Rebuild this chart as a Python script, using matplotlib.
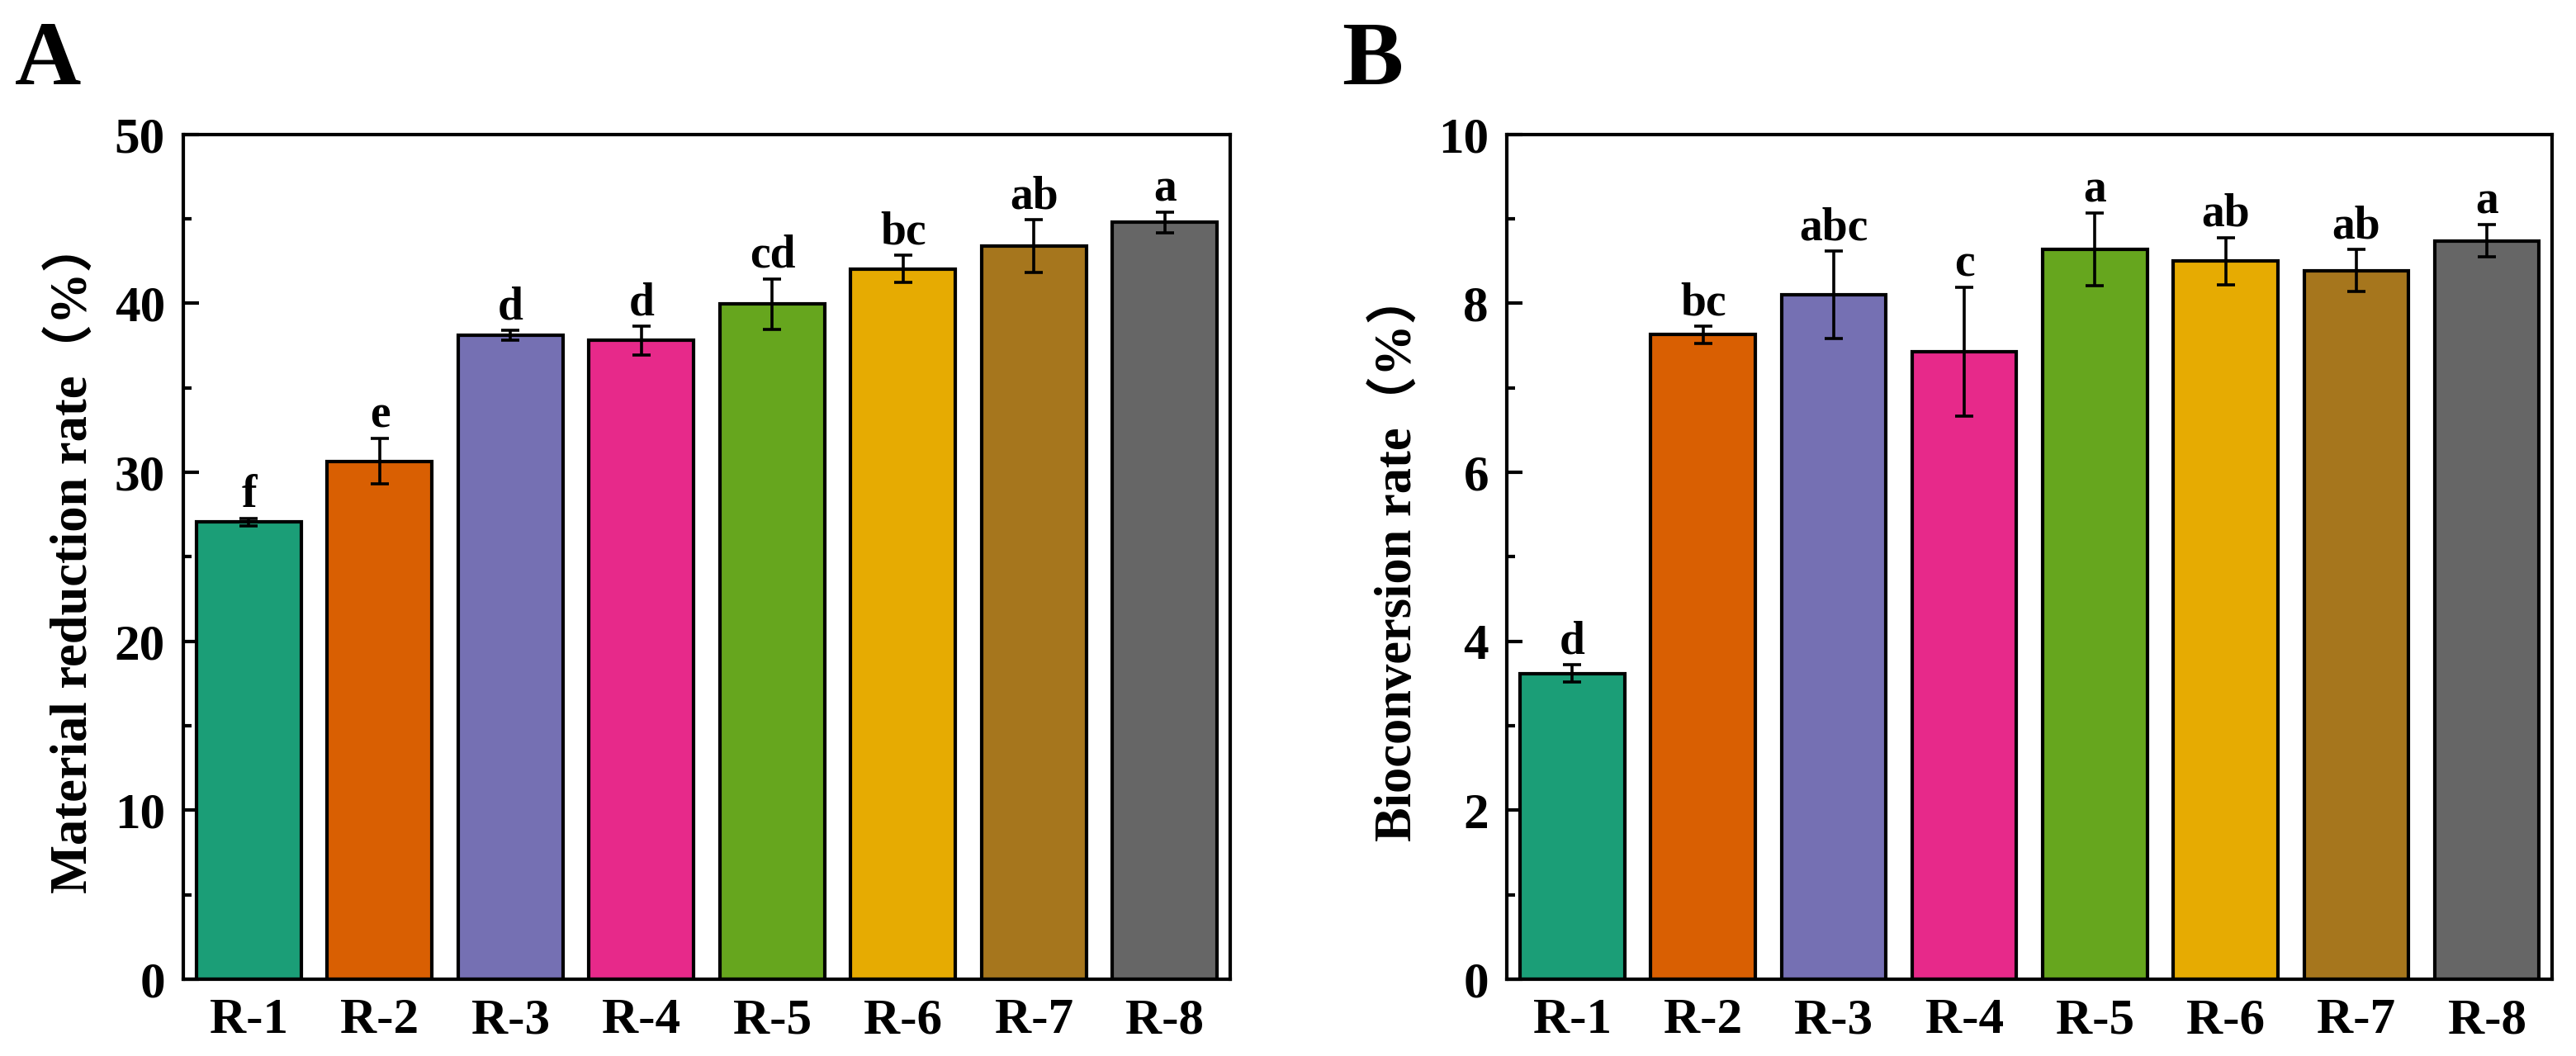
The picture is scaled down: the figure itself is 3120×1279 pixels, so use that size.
import matplotlib
matplotlib.use('Agg')
import matplotlib.pyplot as plt
from matplotlib.ticker import MultipleLocator

plt.rcParams['font.family'] = ['Liberation Serif', 'Noto Sans CJK SC']
plt.rcParams['font.weight'] = 'bold'

groups = ['R-1', 'R-2', 'R-3', 'R-4', 'R-5', 'R-6', 'R-7', 'R-8']
colors = ['#1b9e77', '#d95f02', '#7570b3', '#e7298a',
          '#66a61e', '#e6ab02', '#a6761d', '#666666']

# panel A: material reduction rate
reduction = [27.05, 30.65, 38.1, 37.8, 39.95, 42.05, 43.4, 44.8]
reduction_err = [0.2, 1.35, 0.3, 0.85, 1.5, 0.8, 1.55, 0.6]
reduction_sig = ['f', 'e', 'd', 'd', 'cd', 'bc', 'ab', 'a']

# panel B: bioconversion rate
bioconv = [3.62, 7.63, 8.10, 7.43, 8.64, 8.50, 8.39, 8.74]
bioconv_err = [0.1, 0.1, 0.52, 0.76, 0.43, 0.28, 0.25, 0.19]
bioconv_sig = ['d', 'bc', 'abc', 'c', 'a', 'ab', 'ab', 'a']


def draw_panel(ax, values, errs, sig, ymax, major, ylabel, label_x):
    x = range(len(groups))
    ax.bar(x, values, width=0.8, color=colors, edgecolor='black', linewidth=1.5, zorder=2)
    ax.errorbar(x, values, yerr=errs, fmt='none', ecolor='black', elinewidth=1.3,
                capsize=4, capthick=1.3, zorder=3)
    for xi, v, e, s in zip(x, values, errs, sig):
        ax.annotate(s, (xi, v + e), xytext=(0, 5), textcoords='offset points',
                    ha='center', va='baseline', fontsize=20, fontweight='bold')
    ax.set_xlim(-0.5, len(groups) - 0.5)
    ax.set_ylim(0, ymax)
    ax.set_xticks(list(x))
    ax.set_xticklabels(groups)
    ax.yaxis.set_major_locator(MultipleLocator(major))
    ax.yaxis.set_minor_locator(MultipleLocator(major / 2))
    ax.tick_params(axis='y', which='major', direction='in', length=7, width=1.5,
                   labelsize=22, pad=8)
    ax.tick_params(axis='y', which='minor', direction='in', length=3.5, width=1.5)
    ax.tick_params(axis='x', length=0, labelsize=22, pad=8)
    for lab in ax.get_xticklabels() + ax.get_yticklabels():
        lab.set_fontweight('bold')
    for sp in ax.spines.values():
        sp.set_linewidth(1.5)
    ax.set_ylabel(ylabel, fontsize=22.5, fontweight='bold')
    ax.yaxis.set_label_coords(label_x, 0.5)


fig = plt.figure(figsize=(15.6, 6.395), dpi=200)
axA = fig.add_axes([0.0712, 0.0727, 0.4064, 0.800])
axB = fig.add_axes([0.585, 0.0727, 0.4058, 0.800])

draw_panel(axA, reduction, reduction_err, reduction_sig, 50, 10,
           'Material reduction rate（%）', -0.081)
draw_panel(axB, bioconv, bioconv_err, bioconv_sig, 10, 2,
           'Bioconversion rate（%）', -0.080)
axB.get_yticklabels()[0].set_fontweight('normal')

fig.text(18 / 3120, 1 - 102 / 1279, 'A', fontsize=40, fontweight='bold', va='baseline')
fig.text(1625 / 3120, 1 - 102 / 1279, 'B', fontsize=40, fontweight='bold', va='baseline')

fig.savefig('out.png', dpi=200)
